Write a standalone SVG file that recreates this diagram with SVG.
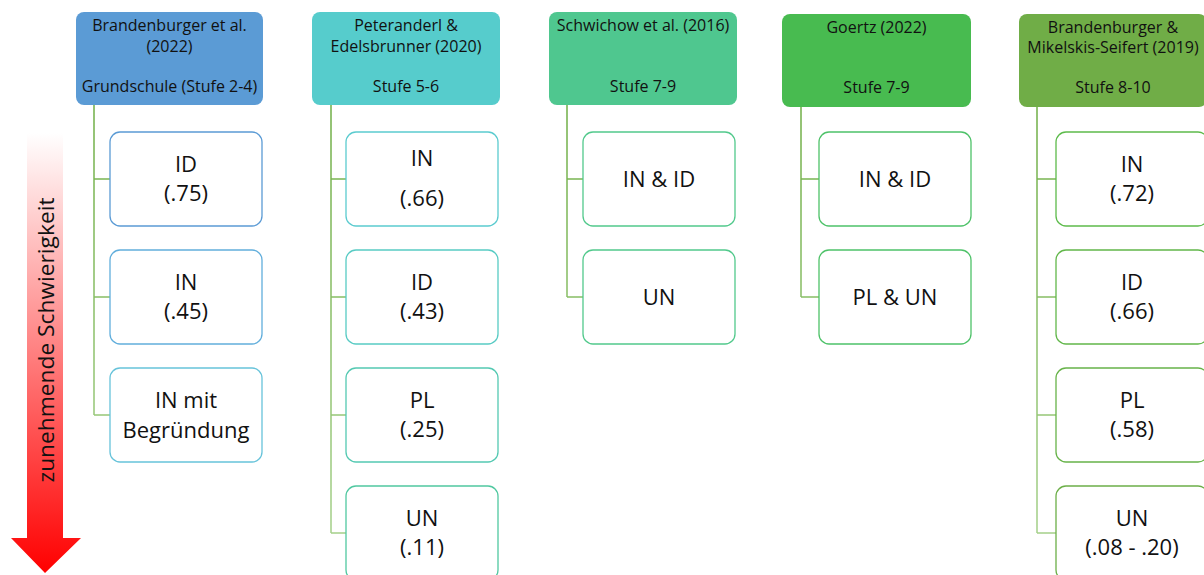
<svg xmlns="http://www.w3.org/2000/svg" width="1204" height="575" viewBox="0 0 1204 575">
<defs>
<linearGradient id="arrowGrad" x1="0" y1="0" x2="0" y2="1">
<stop offset="0" stop-color="#FFFFFF"/>
<stop offset="1" stop-color="#FF0000"/>
</linearGradient>
<linearGradient id="lineGrad" gradientUnits="userSpaceOnUse" x1="0" y1="100" x2="0" y2="540">
<stop offset="0" stop-color="#6FAE45"/>
<stop offset="1" stop-color="#A5D08A"/>
</linearGradient>
</defs>
<style>
.hd{font-family:"Open Sans","Liberation Sans",sans-serif;font-size:16px;fill:#111;text-anchor:middle}
.ch{font-family:"Open Sans","Liberation Sans",sans-serif;font-size:22px;fill:#111;text-anchor:middle}
.box{fill:#FFFFFF;stroke-width:1.3}
.conn{fill:none;stroke:url(#lineGrad);stroke-width:1.5}
</style>
<rect width="1204" height="575" fill="#FFFFFF"/>

<g id="arrow">
<path d="M27 133 H63 V538 H81 L45 573 L11 538 H27 Z" fill="url(#arrowGrad)"/>
<text x="54" y="340" transform="rotate(-90 54 340)" font-family="Open Sans, Liberation Sans, sans-serif" font-size="22" fill="#111" text-anchor="middle" textLength="285" lengthAdjust="spacingAndGlyphs">zunehmende Schwierigkeit</text>
</g>

<g id="connectors">
<path class="conn" d="M94 105 V415 M94 179 H110 M94 297 H110 M94 415 H110"/>
<path class="conn" d="M331 105 V533 M331 179 H346 M331 297 H346 M331 415 H346 M331 533 H346"/>
<path class="conn" d="M567 105 V297 M567 179 H583 M567 297 H583"/>
<path class="conn" d="M801 107 V297 M801 179 H819 M801 297 H819"/>
<path class="conn" d="M1037 107 V533 M1037 179 H1056 M1037 297 H1056 M1037 415 H1056 M1037 533 H1056"/>
</g>

<g id="h1">
<rect x="76" y="12" width="187" height="93" rx="8" fill="#5B9BD5"/>
<text class="hd" x="169.5" y="31">Brandenburger et al.</text>
<text class="hd" x="169.5" y="52">(2022)</text>
<text class="hd" x="169.5" y="92">Grundschule (Stufe 2-4)</text>
</g>
<g id="h1c1"><rect class="box" x="110" y="132" width="152" height="94" rx="10" stroke="#5B9BD5"/><text class="ch" x="186" y="172">ID</text><text class="ch" x="186" y="201">(.75)</text></g>
<g id="h1c2"><rect class="box" x="110" y="250" width="152" height="94" rx="10" stroke="#61AEDC"/><text class="ch" x="186" y="290">IN</text><text class="ch" x="186" y="319">(.45)</text></g>
<g id="h1c3"><rect class="box" x="110" y="368" width="152" height="94" rx="10" stroke="#67C3DA"/><text class="ch" x="186" y="408">IN mit</text><text class="ch" x="186" y="438">Begründung</text></g>

<g id="h2">
<rect x="312" y="12" width="188" height="93" rx="8" fill="#56CCCC"/>
<text class="hd" x="406" y="31">Peteranderl &amp;</text>
<text class="hd" x="406" y="52">Edelsbrunner (2020)</text>
<text class="hd" x="406" y="92">Stufe 5-6</text>
</g>
<g id="h2c1"><rect class="box" x="346" y="132" width="152" height="94" rx="10" stroke="#5BCBCF"/><text class="ch" x="422" y="166">IN</text><text class="ch" x="422" y="206">(.66)</text></g>
<g id="h2c2"><rect class="box" x="346" y="250" width="152" height="94" rx="10" stroke="#58CBC4"/><text class="ch" x="422" y="290">ID</text><text class="ch" x="422" y="319">(.43)</text></g>
<g id="h2c3"><rect class="box" x="346" y="368" width="152" height="94" rx="10" stroke="#54C9B2"/><text class="ch" x="422" y="408">PL</text><text class="ch" x="422" y="437">(.25)</text></g>
<g id="h2c4"><rect class="box" x="346" y="486" width="152" height="94" rx="10" stroke="#50C8A0"/><text class="ch" x="422" y="526">UN</text><text class="ch" x="422" y="555">(.11)</text></g>

<g id="h3">
<rect x="549" y="12" width="188" height="93" rx="8" fill="#4FC78F"/>
<text class="hd" x="643" y="31">Schwichow et al. (2016)</text>
<text class="hd" x="643" y="92">Stufe 7-9</text>
</g>
<g id="h3c1"><rect class="box" x="583" y="132" width="152" height="94" rx="10" stroke="#52C98C"/><text class="ch" x="659" y="187">IN &amp; ID</text></g>
<g id="h3c2"><rect class="box" x="583" y="250" width="152" height="94" rx="10" stroke="#52C98C"/><text class="ch" x="659" y="305">UN</text></g>

<g id="h4">
<rect x="782" y="14" width="189" height="93" rx="8" fill="#48BB50"/>
<text class="hd" x="876.5" y="33">Goertz (2022)</text>
<text class="hd" x="876.5" y="93">Stufe 7-9</text>
</g>
<g id="h4c1"><rect class="box" x="819" y="132" width="152" height="94" rx="10" stroke="#4EC269"/><text class="ch" x="895" y="187">IN &amp; ID</text></g>
<g id="h4c2"><rect class="box" x="819" y="250" width="152" height="94" rx="10" stroke="#4EC269"/><text class="ch" x="895" y="305">PL &amp; UN</text></g>

<g id="h5">
<rect x="1019" y="14" width="188" height="93" rx="8" fill="#70AD47"/>
<text class="hd" x="1113" y="33">Brandenburger &amp;</text>
<text class="hd" x="1113" y="53">Mikelskis-Seifert (2019)</text>
<text class="hd" x="1113" y="93">Stufe 8-10</text>
</g>
<g id="h5c1"><rect class="box" x="1056" y="132" width="152" height="94" rx="10" stroke="#5DBB4B"/><text class="ch" x="1132" y="172">IN</text><text class="ch" x="1132" y="201">(.72)</text></g>
<g id="h5c2"><rect class="box" x="1056" y="250" width="152" height="94" rx="10" stroke="#62B74A"/><text class="ch" x="1132" y="290">ID</text><text class="ch" x="1132" y="319">(.66)</text></g>
<g id="h5c3"><rect class="box" x="1056" y="368" width="152" height="94" rx="10" stroke="#67B349"/><text class="ch" x="1132" y="408">PL</text><text class="ch" x="1132" y="437">(.58)</text></g>
<g id="h5c4"><rect class="box" x="1056" y="486" width="152" height="94" rx="10" stroke="#6CAF48"/><text class="ch" x="1132" y="526">UN</text><text class="ch" x="1132" y="555">(.08 - .20)</text></g>
</svg>
